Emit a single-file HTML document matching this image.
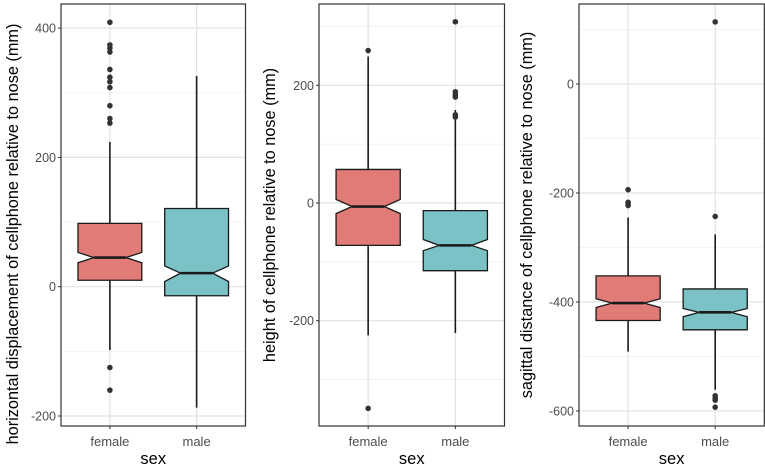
<!DOCTYPE html>
<html><head><meta charset="utf-8"><style>
body{margin:0;background:#fff;}
svg text{font-family:"Liberation Sans",Arial,sans-serif;}
</style></head><body>
<svg id="c" width="765" height="466" viewBox="0 0 765 466" xmlns="http://www.w3.org/2000/svg"></svg>
<script>
const categories = ["female","male"];
const titles = ["horizontal displacement of cellphone relative to nose (mm)","height of cellphone relative to nose (mm)","sagittal distance of cellphone relative to nose (mm)"];
// stats per panel: [lowWhisker, q1, notchLow, median, notchHigh, q3, highWhisker]
const stats1 = [[-98,10,37,45,53,98,224],[-187,-14,8,21,32,121,326]];
const stats2 = [[-225,-72,-18,-6,6,57,249],[-221,-115,-81,-72,-62,-13,158]];
const stats3 = [[-491,-434,-410,-402,-394,-352,-245],[-561,-451,-427,-419,-412,-376,-276]];
const outliers1 = [[409,374,369,363,336,324,317,308,280,260,253,-125,-160],[]];
const outliers2 = [[259,-349],[308,189,184,180,150,146]];
const outliers3 = [[-194,-217,-221,-223],[114,-243,-572,-577,-580,-593]];
const ticks1 = [-200,0,200,400];
const ticks2 = [-200,0,200];
const ticks3 = [-600,-400,-200,0];
const minor1 = [-100,100,300];
const minor2 = [-300,-100,100,300];
const minor3 = [-500,-300,-100,100];

const panels = [
 {x0:61,x1:245.5,ref:[0,286.7],ppu:129.3/200,stats:stats1,out:outliers1,ticks:ticks1,minor:minor1,tx:18,ty:234},
 {x0:319,x1:504.5,ref:[0,203],ppu:117.7/200,stats:stats2,out:outliers2,ticks:ticks2,minor:minor2,tx:275,ty:215},
 {x0:579,x1:764.3,ref:[0,84],ppu:109/200,stats:stats3,out:outliers3,ticks:ticks3,minor:minor3,tx:532,ty:215}
];
const Y0=4,Y1=426;
const fills=["#E07B77","#7AC2C6"];
const svg=document.getElementById('c');
const NS="http://www.w3.org/2000/svg";
function mk(t,a,p){const e=document.createElementNS(NS,t);for(const k in a)e.setAttribute(k,a[k]);(p||svg).appendChild(e);return e;}
panels.forEach((p,pi)=>{
  const g=mk('g',{});
  
  
  const y=v=>p.ref[1]-(v-p.ref[0])*p.ppu;
  const w=p.x1-p.x0;
  const xs=[p.x0+w*0.265,p.x0+w*0.735];
  mk('rect',{x:p.x0,y:Y0,width:w,height:Y1-Y0,fill:'#fff'},g);
  p.minor.forEach(v=>{mk('line',{x1:p.x0,x2:p.x1,y1:y(v),y2:y(v),stroke:'#f0f0f0','stroke-width':0.8},g);});
  p.ticks.forEach(v=>{
    const l=mk('line',{x1:p.x0,x2:p.x1,y1:y(v),y2:y(v),stroke:'#e3e3e3','stroke-width':1.2},g);
    
    
    mk('line',{x1:p.x0-3,x2:p.x0,y1:y(v),y2:y(v),stroke:'#333','stroke-width':1},g);
    const t=mk('text',{x:p.x0-5,y:y(v)+4.5,'text-anchor':'end','font-size':12.5,fill:'#4d4d4d'},g);
    t.textContent=v;
    
    
  });
  xs.forEach(x=>{mk('line',{x1:x,x2:x,y1:Y0,y2:Y1,stroke:'#e3e3e3','stroke-width':1.2},g);});
  categories.forEach((c,i)=>{
    const s=p.stats[i],x=xs[i],hw=w*0.173,nw=hw/2;
    const wl=mk('line',{x1:x,x2:x,y1:y(s[6]),y2:y(s[0]),stroke:'#1a1a1a','stroke-width':1.6},g);
    
    
    const pts=[[x-hw,y(s[1])],[x-hw,y(s[2])],[x-nw,y(s[3])],[x-hw,y(s[4])],[x-hw,y(s[5])],[x+hw,y(s[5])],[x+hw,y(s[4])],[x+nw,y(s[3])],[x+hw,y(s[2])],[x+hw,y(s[1])]];
    const b=mk('polygon',{points:pts.map(q=>q.join(',')).join(' '),fill:fills[i],stroke:'#1a1a1a','stroke-width':1.3},g);
    
    
    const m=mk('line',{x1:x-nw,x2:x+nw,y1:y(s[3]),y2:y(s[3]),stroke:'#1a1a1a','stroke-width':2.6},g);
    
    
    p.out[i].forEach(v=>{
      const o=mk('circle',{cx:x,cy:y(v),r:2.8,fill:'#333'},g);
      
      
    });
    mk('line',{x1:x,x2:x,y1:Y1,y2:Y1+3,stroke:'#333','stroke-width':1},g);
    const t=mk('text',{x:x,y:446,'text-anchor':'middle','font-size':13,fill:'#4d4d4d'},g);
    t.textContent=c;
    
    
  });
  mk('rect',{x:p.x0,y:Y0,width:w,height:Y1-Y0,fill:'none',stroke:'#333','stroke-width':1.2},g);
  const xt=mk('text',{x:(p.x0+p.x1)/2,y:464,'text-anchor':'middle','font-size':16.5,fill:'#000'},g);
  xt.textContent='sex';
  
  
  const yt=mk('text',{x:0,y:0,'text-anchor':'middle','font-size':16.3,fill:'#000',transform:`translate(${p.tx},${p.ty}) rotate(-90)`},g);
  yt.textContent=titles[pi];
  
  
});
</script>
</body></html>
